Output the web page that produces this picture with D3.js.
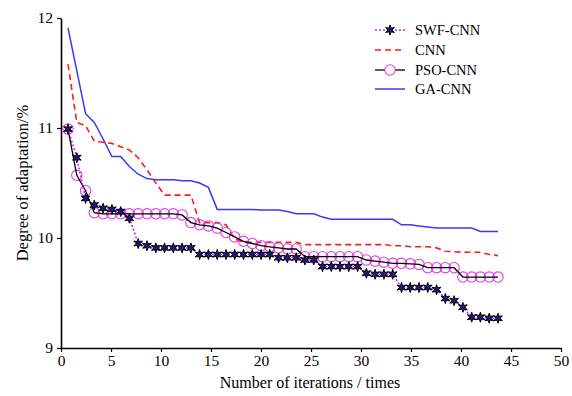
<!DOCTYPE html>
<html><head><meta charset="utf-8">
<script src="https://cdn.jsdelivr.net/npm/d3@7"></script>
<style>body{margin:0;background:#fff}svg{display:block}svg text{font-family:"Liberation Serif","DejaVu Serif",serif}</style>
</head><body>
<svg id="c" width="572" height="396"></svg>
<script>
const iterations = [0.7,1.58,2.46,3.33,4.21,5.09,5.97,6.84,7.72,8.6,9.48,10.35,11.23,12.11,12.99,13.86,14.74,15.62,16.5,17.37,18.25,19.13,20.01,20.88,21.76,22.64,23.52,24.39,25.27,26.15,27.03,27.9,28.78,29.66,30.54,31.41,32.29,33.17,34.05,34.92,35.8,36.68,37.56,38.43,39.31,40.19,41.07,41.94,42.82,43.7];
const swfCnn = [10.99,10.73,10.36,10.30,10.27,10.26,10.24,10.18,9.95,9.93,9.91,9.91,9.91,9.91,9.91,9.85,9.85,9.85,9.85,9.85,9.85,9.85,9.85,9.85,9.82,9.82,9.82,9.80,9.80,9.74,9.74,9.74,9.74,9.74,9.68,9.67,9.67,9.67,9.55,9.55,9.55,9.55,9.53,9.45,9.43,9.37,9.28,9.28,9.27,9.27];
const cnn = [11.58,11.05,11.02,10.88,10.87,10.86,10.83,10.80,10.73,10.62,10.50,10.39,10.39,10.39,10.39,10.14,10.14,10.14,10.12,9.99,9.96,9.96,9.96,9.96,9.96,9.96,9.96,9.94,9.94,9.94,9.94,9.94,9.94,9.94,9.94,9.94,9.94,9.93,9.93,9.92,9.92,9.92,9.91,9.88,9.875,9.87,9.87,9.87,9.85,9.84];
const psoCnn = [10.99,10.57,10.43,10.23,10.22,10.22,10.22,10.22,10.22,10.22,10.22,10.22,10.22,10.21,10.14,10.12,10.11,10.09,10.05,10.01,9.97,9.95,9.93,9.92,9.91,9.90,9.90,9.83,9.83,9.83,9.83,9.83,9.83,9.83,9.80,9.79,9.78,9.77,9.77,9.765,9.76,9.73,9.73,9.73,9.73,9.645,9.645,9.645,9.645,9.645];
const gaCnn = [11.91,11.52,11.13,11.05,10.90,10.74,10.74,10.65,10.58,10.54,10.53,10.53,10.53,10.52,10.52,10.50,10.46,10.26,10.26,10.26,10.26,10.26,10.255,10.255,10.255,10.24,10.22,10.22,10.22,10.19,10.17,10.17,10.17,10.17,10.17,10.17,10.17,10.17,10.12,10.12,10.11,10.10,10.09,10.09,10.09,10.09,10.09,10.06,10.06,10.06];
const xTicks = [0,5,10,15,20,25,30,35,40,45,50];
const yTicks = [9,10,11,12];
const seriesNames = ["SWF-CNN","CNN","PSO-CNN","GA-CNN"];

const svg = d3.select("#c");
const font = "Liberation Serif";
const x = d3.scaleLinear().domain([0,50]).range([61,561]);
const y = d3.scaleLinear().domain([9,12]).range([348,18]);

const xa = svg.append("g").attr("transform","translate(0,348)")
  .call(d3.axisBottom(x).tickValues(xTicks).tickFormat(d3.format("d")).tickSize(4).tickSizeOuter(0));
const ya = svg.append("g").attr("transform","translate(61,0)")
  .call(d3.axisLeft(y).tickValues(yTicks).tickFormat(d3.format("d")).tickSize(4).tickSizeOuter(0));
[xa,ya].forEach(a=>{
  a.attr("font-family",font).attr("font-size",15.5);
  a.select(".domain").attr("stroke","#000").attr("stroke-width",1.6);
  a.selectAll(".tick line").attr("stroke","#000").attr("stroke-width",1.2);
  a.selectAll("text").attr("fill","#000");
});
xa.selectAll("text").attr("dy","0.72em");
ya.selectAll("text").attr("dx","-1");

svg.append("text").attr("x",310).attr("y",388).attr("text-anchor","middle")
  .attr("font-family",font).attr("font-size",16).text("Number of iterations / times");
svg.append("text").attr("transform","translate(28,183) rotate(-90)").attr("text-anchor","middle")
  .attr("font-family",font).attr("font-size",16.5).text("Degree of adaptation/%");

const line = d3.line().x((d,i)=>x(iterations[i])).y(d=>y(d));

// GA-CNN
svg.append("path").datum(gaCnn).attr("d",line).attr("fill","none").attr("stroke","#3a3af0").attr("stroke-width",1.5);
// CNN
svg.append("path").datum(cnn).attr("d",line).attr("fill","none").attr("stroke","#ff1a1a").attr("stroke-width",1.6).attr("stroke-dasharray","6,4");
// PSO-CNN
svg.append("g").selectAll("circle").data(psoCnn).join("circle")
  .attr("cx",(d,i)=>x(iterations[i])).attr("cy",d=>y(d)).attr("r",5.2)
  .attr("fill","none").attr("stroke","#e03ce8").attr("stroke-width",1.1);
svg.append("path").datum(psoCnn).attr("d",line).attr("fill","none").attr("stroke","#000").attr("stroke-width",1.3);
// SWF-CNN
svg.append("path").datum(swfCnn).attr("d",line).attr("fill","none").attr("stroke","#d020ff").attr("stroke-width",1.6).attr("stroke-dasharray","2,2");

function starPath(r){
  const pts=[];
  for(let k=0;k<12;k++){
    const a = Math.PI/6*k - Math.PI/2;
    const rr = k%2===0 ? r : r*0.42;
    pts.push([rr*Math.cos(a), rr*Math.sin(a)]);
  }
  return "M"+pts.map(p=>p[0].toFixed(2)+","+p[1].toFixed(2)).join("L")+"Z";
}
const sp = starPath(5);
svg.append("g").selectAll("path").data(swfCnn).join("path")
  .attr("transform",(d,i)=>`translate(${x(iterations[i])},${y(d)})`)
  .attr("d",sp).attr("fill","#1a1a80").attr("stroke","#000").attr("stroke-width",1);

// Legend
const lg = svg.append("g");
const rows = [30,50,70,89];
seriesNames.forEach((name,i)=>{
  const yy = rows[i];
  const l = lg.append("line").attr("x1",375).attr("x2",405).attr("y1",yy).attr("y2",yy);
  if(i===0){
    l.attr("stroke","#d020ff").attr("stroke-width",1.6).attr("stroke-dasharray","2,2");
    lg.append("path").attr("transform",`translate(390,${yy})`).attr("d",sp).attr("fill","#1a1a80").attr("stroke","#000");
  } else if(i===1){
    l.attr("stroke","#ff1a1a").attr("stroke-width",1.6).attr("stroke-dasharray","6,4");
  } else if(i===2){
    l.attr("stroke","#000").attr("stroke-width",1.3);
    lg.append("circle").attr("cx",390).attr("cy",yy).attr("r",5.2).attr("fill","#fff").attr("stroke","#e03ce8").attr("stroke-width",1.1);
  } else {
    l.attr("stroke","#3a3af0").attr("stroke-width",1.5);
  }
  lg.append("text").attr("x",415).attr("y",yy).attr("dy","0.35em")
    .attr("font-family",font).attr("font-size",14.5).text(name);
});
</script>
</body></html>
